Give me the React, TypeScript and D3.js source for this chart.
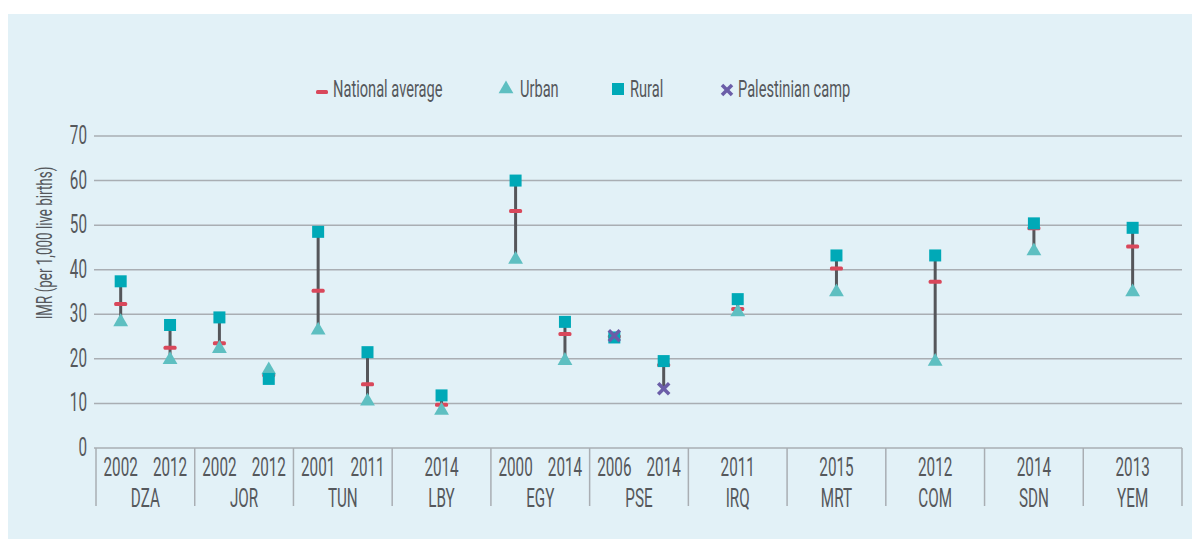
import React from "react";
import * as d3 from "d3";

// survey rows, one per country-year
const surveyCountry = ["DZA", "DZA", "JOR", "JOR", "TUN", "TUN", "LBY", "EGY", "EGY", "PSE", "PSE", "IRQ", "MRT", "COM", "SDN", "YEM"];
const surveyYear = ["2002", "2012", "2002", "2012", "2001", "2011", "2014", "2000", "2014", "2006", "2014", "2011", "2015", "2012", "2014", "2013"];
const nationalAvg = [32.3, 22.5, 23.5, 16.3, 35.3, 14.3, 9.7, 53.2, 25.6, 25.0, 18.6, 31.2, 40.3, 37.3, 49.3, 45.2];
const urbanIMR = [28.3, 19.8, 22.3, 17.5, 26.4, 10.5, 8.4, 42.3, 19.6, null, null, 30.5, 35.0, 19.4, 44.2, 35.0];
const ruralIMR = [37.4, 27.6, 29.3, 15.5, 48.5, 21.5, 11.8, 60.0, 28.3, 24.8, 19.5, 33.4, 43.2, 43.2, 50.4, 49.4];
const campIMR = [null, null, null, null, null, null, null, null, null, 25.2, 13.3, null, null, null, null, null];

const countries = ["DZA", "JOR", "TUN", "LBY", "EGY", "PSE", "IRQ", "MRT", "COM", "SDN", "YEM"];
const yTicks = [0, 10, 20, 30, 40, 50, 60, 70];

const W = 1192;
const H = 539;
const margin = { left: 96, right: 6, top: 136, bottom: 91 };

const colors = {
  bg: "#e2f1f7",
  grid: "#a9aeb3",
  text: "#55585c",
  stem: "#55565a",
  national: "#d9485b",
  urban: "#5ebfc1",
  rural: "#00a9b7",
  camp: "#6b5ea8",
};

const font = "Roboto, 'DejaVu Sans', sans-serif";
const squeeze = 0.61; // the original uses a condensed face

// condensed text: squeeze horizontally around the anchor point
const T = ({ x, y, anchor = "start", size = 24, rotate = 0, children }: any) => (
  <text
    transform={`translate(${x},${y}) rotate(${rotate}) scale(${squeeze},1)`}
    dy="0.36em"
    textAnchor={anchor}
    fontSize={size}
    fill={colors.text}
  >
    {children}
  </text>
);

export default function App() {
  const x = d3
    .scaleBand<string>()
    .domain(countries)
    .range([margin.left, W - margin.right - 4])
    .padding(0);

  const y = d3.scaleLinear().domain([0, 70]).range([H - margin.bottom, margin.top]);

  const rows = surveyCountry.map((c, i) => {
    const yearsOfCountry = surveyYear.filter((_, j) => surveyCountry[j] === c);
    const sub = d3.scalePoint<string>().domain(yearsOfCountry).range([0, x.bandwidth()]).padding(0.5);
    const vals = [nationalAvg[i], urbanIMR[i], ruralIMR[i], campIMR[i]].filter((v) => v != null) as number[];
    return {
      country: c,
      year: surveyYear[i],
      cx: (x(c) as number) + (sub(surveyYear[i]) as number),
      national: nationalAvg[i],
      urban: urbanIMR[i],
      rural: ruralIMR[i],
      camp: campIMR[i],
      lo: d3.min(vals) as number,
      hi: d3.max(vals) as number,
    };
  });

  const tri = d3.symbol().type(d3.symbolTriangle).size(95)() as string;
  const sq = 12;
  const xSize = 5.5;

  const x0 = margin.left - 2;
  const x1 = x.range()[1];
  const baseY = y(0);

  return (
    <svg width={W} height={H} style={{ position: "absolute", left: 0, top: 0 }} fontFamily={font}>
      <rect x={8} y={14} width={W - 8} height={H - 14} fill={colors.bg} />

      {/* legend */}
      <g transform="translate(0, 88)">
        <rect x={316} y={2} width={12} height={4} rx={1.5} fill={colors.national} />
        <T x={333} y={0}>National average</T>
        <path d={tri} transform="translate(506, 1)" fill={colors.urban} />
        <T x={520} y={0}>Urban</T>
        <rect x={612} y={-5} width={12} height={12} fill={colors.rural} />
        <T x={630} y={0}>Rural</T>
        <g transform="translate(727, 2)" stroke={colors.camp} strokeWidth={3.5}>
          <line x1={-5} y1={-5} x2={5} y2={5} />
          <line x1={-5} y1={5} x2={5} y2={-5} />
        </g>
        <T x={738} y={0}>Palestinian camp</T>
      </g>

      {/* grid + y axis */}
      {yTicks.map((t) => (
        <g key={t}>
          {t > 0 && <line x1={x0} x2={x1} y1={y(t)} y2={y(t)} stroke={colors.grid} strokeWidth={1.5} />}
          <T x={87} y={y(t) - 1} anchor="end" size={25}>
            {t}
          </T>
        </g>
      ))}
      <T x={44} y={243} anchor="middle" size={22} rotate={-90}>
        IMR (per 1,000 live births)
      </T>

      {/* x axis */}
      <line x1={x0} x2={x1} y1={baseY} y2={baseY} stroke={colors.grid} strokeWidth={1.5} />
      {countries.concat(["end"]).map((c, i) => {
        const xx = i < countries.length ? (x(c) as number) : x1;
        return <line key={c} x1={xx} x2={xx} y1={baseY} y2={baseY + 58} stroke={colors.grid} strokeWidth={1.5} />;
      })}
      {rows.map((r) => (
        <T key={r.country + r.year} x={r.cx} y={baseY + 19} anchor="middle" size={25}>
          {r.year}
        </T>
      ))}
      {countries.map((c) => (
        <T key={c} x={(x(c) as number) + x.bandwidth() / 2} y={baseY + 50} anchor="middle" size={25}>
          {c}
        </T>
      ))}

      {/* marks */}
      {rows.map((r) => (
        <g key={"m" + r.country + r.year}>
          <line x1={r.cx} x2={r.cx} y1={y(r.hi)} y2={y(r.lo)} stroke={colors.stem} strokeWidth={3} />
          <rect x={r.cx - 6.5} y={y(r.national) - 2} width={13} height={4} rx={1.5} fill={colors.national} />
          {r.urban != null && <path d={tri} transform={`translate(${r.cx}, ${y(r.urban)})`} fill={colors.urban} />}
          <rect x={r.cx - sq / 2} y={y(r.rural) - sq / 2} width={sq} height={sq} fill={colors.rural} />
          {r.camp != null && (
            <g transform={`translate(${r.cx}, ${y(r.camp)})`} stroke={colors.camp} strokeWidth={3.5}>
              <line x1={-xSize} y1={-xSize} x2={xSize} y2={xSize} />
              <line x1={-xSize} y1={xSize} x2={xSize} y2={-xSize} />
            </g>
          )}
        </g>
      ))}
    </svg>
  );
}
